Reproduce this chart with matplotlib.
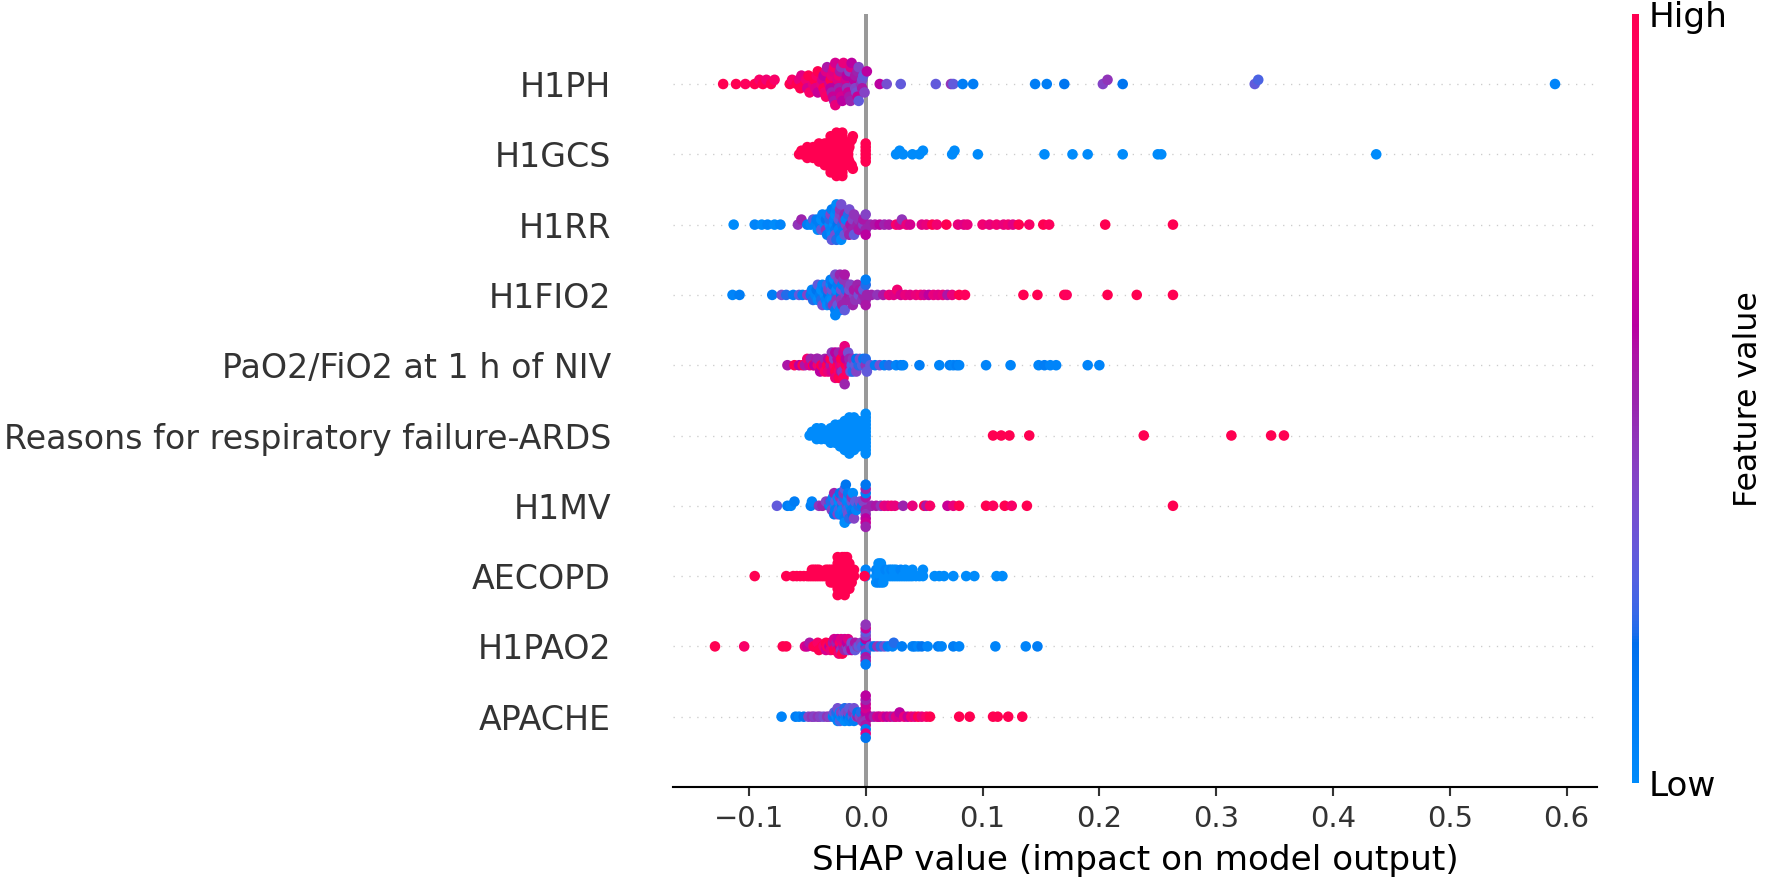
import matplotlib

matplotlib.use("Agg")
import matplotlib.pyplot as plt
import numpy as np
from matplotlib.cm import ScalarMappable
from matplotlib.colors import LinearSegmentedColormap, Normalize

# SHAP 值与特征值（0 = 低，1 = 高），按图中从上到下的顺序
feature_names = [
    "H1PH",
    "H1GCS",
    "H1RR",
    "H1FIO2",
    "PaO2/FiO2 at 1 h of NIV",
    "Reasons for respiratory failure-ARDS",
    "H1MV",
    "AECOPD",
    "H1PAO2",
    "APACHE",
]

h1ph = [
    (-0.122, 1.0), (-0.111, 1.0), (-0.103, 0.95), (-0.095, 1.0), (-0.091, 0.9), (-0.088, 1.0),
    (-0.085, 0.85), (-0.081, 1.0), (-0.078, 0.9),
    (-0.065, 1.0), (-0.063, 0.9),
    (-0.059, 1.0), (-0.057, 0.8), (-0.056, 1.0), (-0.055, 0.75),
    (-0.052, 1.0), (-0.051, 0.85), (-0.050, 0.7), (-0.049, 1.0), (-0.048, 0.9),
    (-0.045, 0.8), (-0.044, 1.0), (-0.043, 0.75), (-0.042, 0.9), (-0.041, 0.65), (-0.041, 1.0),
    (-0.038, 0.8), (-0.037, 0.7), (-0.036, 1.0), (-0.036, 0.6), (-0.035, 0.85), (-0.034, 0.75),
    (-0.034, 0.9), (-0.033, 0.55),
    (-0.031, 0.7), (-0.030, 1.0), (-0.030, 0.6), (-0.029, 0.8), (-0.029, 0.5), (-0.028, 0.75),
    (-0.028, 0.65), (-0.027, 0.9), (-0.027, 0.55), (-0.026, 0.7), (-0.026, 0.8),
    (-0.024, 0.6), (-0.024, 0.75), (-0.023, 0.5), (-0.023, 0.85), (-0.022, 0.65), (-0.022, 0.55),
    (-0.021, 0.7), (-0.021, 0.45), (-0.020, 0.6), (-0.019, 0.8),
    (-0.017, 0.55), (-0.017, 0.7), (-0.016, 0.45), (-0.016, 0.6), (-0.015, 0.65), (-0.014, 0.4),
    (-0.014, 0.55), (-0.013, 0.75), (-0.013, 0.5), (-0.012, 0.6),
    (-0.010, 0.45), (-0.010, 0.6), (-0.009, 0.4), (-0.009, 0.55), (-0.008, 0.35), (-0.007, 0.5),
    (-0.007, 0.65), (-0.006, 0.4), (-0.006, 0.3),
    (-0.004, 0.45), (-0.003, 0.35), (-0.003, 0.55), (-0.002, 0.3), (-0.001, 0.4), (0.001, 0.6),
    (0.012, 0.6), (0.018, 0.35), (0.030, 0.3), (0.060, 0.3), (0.073, 0.45), (0.075, 0.3),
    (0.083, 0.1), (0.092, 0.1), (0.145, 0.1), (0.155, 0.1), (0.170, 0.15), (0.203, 0.4),
    (0.207, 0.45), (0.220, 0.15), (0.333, 0.3), (0.336, 0.25), (0.590, 0.05),
]

h1gcs = [
    (-0.057, 1.0), (-0.055, 1.0), (-0.054, 1.0),
    (-0.051, 1.0), (-0.050, 1.0), (-0.050, 1.0), (-0.049, 1.0),
    (-0.046, 1.0), (-0.045, 1.0), (-0.045, 1.0), (-0.044, 1.0), (-0.044, 1.0),
    (-0.041, 1.0), (-0.041, 1.0), (-0.040, 1.0), (-0.040, 1.0), (-0.039, 1.0), (-0.039, 1.0),
    (-0.036, 1.0), (-0.036, 1.0), (-0.035, 1.0), (-0.035, 1.0), (-0.035, 1.0), (-0.034, 1.0),
    (-0.034, 1.0), (-0.034, 1.0),
    (-0.031, 1.0), (-0.031, 1.0), (-0.031, 1.0), (-0.031, 1.0), (-0.030, 1.0), (-0.030, 1.0),
    (-0.030, 1.0), (-0.030, 1.0), (-0.029, 1.0), (-0.029, 1.0), (-0.029, 1.0),
    (-0.026, 1.0), (-0.026, 1.0), (-0.026, 1.0), (-0.026, 1.0), (-0.026, 1.0), (-0.025, 1.0),
    (-0.025, 1.0), (-0.025, 1.0), (-0.025, 1.0), (-0.025, 1.0), (-0.024, 1.0), (-0.024, 1.0),
    (-0.024, 1.0), (-0.024, 1.0),
    (-0.021, 1.0), (-0.021, 1.0), (-0.021, 1.0), (-0.021, 1.0), (-0.021, 1.0), (-0.020, 1.0),
    (-0.020, 1.0), (-0.020, 1.0), (-0.020, 1.0), (-0.019, 1.0), (-0.019, 1.0), (-0.019, 1.0),
    (-0.019, 1.0),
    (-0.016, 1.0), (-0.016, 1.0), (-0.016, 1.0), (-0.015, 1.0), (-0.015, 1.0), (-0.015, 1.0),
    (-0.014, 1.0), (-0.014, 1.0), (-0.014, 1.0),
    (-0.012, 1.0), (-0.012, 1.0), (-0.011, 1.0), (-0.011, 1.0),
    (0.000, 1.0), (0.000, 1.0), (0.000, 1.0), (0.000, 1.0), (0.000, 1.0), (0.000, 1.0),
    (0.026, 0.0), (0.029, 0.0), (0.032, 0.0), (0.040, 0.0), (0.046, 0.0), (0.049, 0.0),
    (0.074, 0.0), (0.076, 0.0), (0.096, 0.0), (0.153, 0.0), (0.177, 0.0), (0.190, 0.0),
    (0.220, 0.0), (0.250, 0.0), (0.253, 0.0), (0.437, 0.0),
]

h1rr = [
    (-0.113, 0.0), (-0.095, 0.05), (-0.089, 0.0), (-0.084, 0.05), (-0.078, 0.0), (-0.073, 0.05),
    (-0.058, 0.45), (-0.055, 0.5), (-0.050, 0.1), (-0.047, 0.05), (-0.045, 0.3),
    (-0.043, 0.05), (-0.042, 0.1), (-0.041, 0.0),
    (-0.039, 0.1), (-0.038, 0.0), (-0.038, 0.3), (-0.037, 0.05),
    (-0.035, 0.0), (-0.034, 0.15), (-0.034, 0.45), (-0.033, 0.05), (-0.033, 0.1),
    (-0.031, 0.0), (-0.031, 0.2), (-0.030, 0.05), (-0.030, 0.4), (-0.029, 0.0), (-0.029, 0.1),
    (-0.029, 0.3),
    (-0.027, 0.0), (-0.027, 0.05), (-0.026, 0.1), (-0.026, 0.0), (-0.026, 0.35), (-0.025, 0.05),
    (-0.025, 0.2), (-0.025, 0.0), (-0.024, 0.15),
    (-0.023, 0.3), (-0.023, 0.05), (-0.022, 0.4), (-0.022, 0.1), (-0.022, 0.45), (-0.021, 0.0),
    (-0.021, 0.35), (-0.020, 0.2),
    (-0.019, 0.45), (-0.019, 0.1), (-0.018, 0.5), (-0.018, 0.3), (-0.017, 0.4), (-0.017, 0.05),
    (-0.015, 0.45), (-0.015, 0.2), (-0.014, 0.5), (-0.014, 0.35), (-0.013, 0.55),
    (-0.011, 0.4), (-0.011, 0.5), (-0.010, 0.45), (-0.010, 0.3),
    (-0.007, 0.5), (-0.006, 0.45), (-0.006, 0.55),
    (-0.003, 0.5), (-0.002, 0.4), (-0.002, 0.55),
    (0.000, 0.5), (0.000, 0.4), (0.000, 0.6),
    (0.004, 0.5), (0.008, 0.55), (0.012, 0.6), (0.016, 0.5), (0.020, 0.55), (0.026, 0.9),
    (0.029, 0.75), (0.031, 0.45), (0.035, 0.8), (0.038, 0.7), (0.048, 0.75), (0.052, 0.8),
    (0.057, 1.0), (0.061, 0.85), (0.069, 1.0), (0.079, 0.8), (0.084, 0.75), (0.087, 0.8),
    (0.100, 0.85), (0.106, 0.8), (0.112, 0.85), (0.118, 0.8), (0.122, 0.85), (0.126, 0.75),
    (0.131, 1.0), (0.140, 0.9), (0.152, 1.0), (0.157, 0.95), (0.205, 1.0), (0.263, 1.0),
]

h1fio2 = [
    (-0.114, 0.05), (-0.108, 0.1),
    (-0.080, 0.1), (-0.072, 0.35), (-0.068, 0.2), (-0.062, 0.1), (-0.057, 0.3), (-0.054, 0.1),
    (-0.050, 0.4),
    (-0.047, 0.1), (-0.046, 0.05), (-0.045, 0.2),
    (-0.043, 0.05), (-0.042, 0.15), (-0.041, 0.0), (-0.041, 0.3),
    (-0.039, 0.1), (-0.038, 0.0), (-0.038, 0.2), (-0.037, 0.05), (-0.037, 0.35),
    (-0.035, 0.0), (-0.034, 0.1), (-0.034, 0.05), (-0.033, 0.25), (-0.033, 0.0), (-0.032, 0.15),
    (-0.032, 0.4),
    (-0.031, 0.05), (-0.030, 0.0), (-0.030, 0.2), (-0.030, 0.1), (-0.029, 0.05), (-0.029, 0.3),
    (-0.029, 0.0), (-0.028, 0.15), (-0.028, 0.45),
    (-0.027, 0.0), (-0.026, 0.1), (-0.026, 0.35), (-0.026, 0.05), (-0.025, 0.2), (-0.025, 0.0),
    (-0.025, 0.45), (-0.024, 0.1), (-0.024, 0.3),
    (-0.023, 0.4), (-0.022, 0.05), (-0.022, 0.5), (-0.021, 0.15), (-0.021, 0.35), (-0.021, 0.45),
    (-0.020, 0.1), (-0.020, 0.5),
    (-0.019, 0.45), (-0.018, 0.3), (-0.018, 0.55), (-0.017, 0.4), (-0.017, 0.2), (-0.016, 0.5),
    (-0.015, 0.45), (-0.014, 0.55), (-0.014, 0.35), (-0.013, 0.5), (-0.013, 0.4),
    (-0.011, 0.5), (-0.010, 0.4), (-0.010, 0.55), (-0.009, 0.45),
    (-0.007, 0.5), (-0.006, 0.35), (-0.005, 0.55),
    (-0.003, 0.45), (-0.002, 0.5), (-0.002, 0.3),
    (0.000, 0.5), (0.000, 0.2), (0.000, 0.55), (0.000, 0.1), (0.001, 0.5),
    (0.005, 0.5), (0.010, 0.45), (0.015, 0.55), (0.020, 0.8), (0.024, 0.75), (0.027, 0.85),
    (0.030, 0.7), (0.034, 0.8), (0.038, 0.75), (0.043, 0.8), (0.047, 0.85), (0.050, 0.7),
    (0.054, 0.6), (0.058, 0.8), (0.062, 0.75), (0.066, 0.8), (0.070, 0.55), (0.074, 0.8),
    (0.080, 1.0), (0.085, 0.95), (0.135, 1.0), (0.147, 1.0), (0.170, 1.0), (0.172, 0.95),
    (0.207, 1.0), (0.232, 1.0), (0.263, 1.0),
]

pao2_fio2 = [
    (-0.067, 0.55), (-0.061, 1.0), (-0.057, 0.6), (-0.054, 1.0), (-0.052, 0.55), (-0.050, 0.85),
    (-0.048, 0.7), (-0.047, 0.5),
    (-0.045, 1.0), (-0.044, 0.6),
    (-0.042, 0.55), (-0.041, 0.85), (-0.041, 0.5),
    (-0.039, 0.6), (-0.038, 1.0),
    (-0.036, 0.7), (-0.035, 0.5), (-0.035, 0.9),
    (-0.033, 1.0), (-0.032, 0.6), (-0.032, 0.8),
    (-0.030, 0.55), (-0.030, 1.0), (-0.029, 0.7), (-0.029, 0.45),
    (-0.027, 0.9), (-0.027, 0.4), (-0.026, 1.0), (-0.026, 0.6), (-0.026, 0.8),
    (-0.024, 1.0), (-0.024, 0.65), (-0.023, 0.9), (-0.023, 0.5), (-0.023, 1.0), (-0.022, 0.75),
    (-0.021, 1.0), (-0.021, 0.55), (-0.020, 0.85), (-0.020, 1.0), (-0.020, 0.45), (-0.019, 0.7),
    (-0.019, 0.95),
    (-0.018, 0.8), (-0.018, 0.5), (-0.017, 1.0), (-0.017, 0.6), (-0.016, 0.9),
    (-0.015, 0.35), (-0.014, 0.7), (-0.014, 0.5), (-0.013, 0.3),
    (-0.012, 0.25), (-0.011, 0.45), (-0.011, 0.2),
    (-0.009, 0.3), (-0.008, 0.15), (-0.008, 0.4),
    (-0.006, 0.2), (-0.005, 0.35),
    (-0.003, 0.25), (-0.002, 0.1),
    (0.000, 0.45), (0.000, 0.2), (0.001, 0.3),
    (0.004, 0.3), (0.008, 0.1), (0.012, 0.35), (0.016, 0.1), (0.020, 0.2), (0.026, 0.05),
    (0.030, 0.1), (0.032, 0.05), (0.046, 0.1), (0.063, 0.05), (0.072, 0.1), (0.075, 0.05),
    (0.078, 0.1), (0.080, 0.05), (0.103, 0.05), (0.124, 0.05), (0.148, 0.05), (0.153, 0.1),
    (0.158, 0.05), (0.163, 0.05), (0.190, 0.05), (0.200, 0.05),
]

ards = [
    (-0.048, 0.0), (-0.046, 0.0),
    (-0.044, 0.0), (-0.043, 0.0), (-0.042, 0.0), (-0.042, 0.0),
    (-0.040, 0.0), (-0.039, 0.0), (-0.038, 0.0), (-0.038, 0.0),
    (-0.036, 0.0), (-0.035, 0.0), (-0.034, 0.0),
    (-0.032, 0.0), (-0.031, 0.0), (-0.031, 0.0), (-0.030, 0.0), (-0.030, 0.0),
    (-0.028, 0.0), (-0.028, 0.0), (-0.027, 0.0), (-0.027, 0.0), (-0.026, 0.0), (-0.026, 0.0),
    (-0.024, 0.0), (-0.024, 0.0), (-0.023, 0.0), (-0.023, 0.0), (-0.022, 0.0), (-0.022, 0.0),
    (-0.022, 0.0),
    (-0.020, 0.0), (-0.020, 0.0), (-0.020, 0.0), (-0.019, 0.0), (-0.019, 0.0), (-0.019, 0.0),
    (-0.018, 0.0), (-0.018, 0.0), (-0.018, 0.0),
    (-0.016, 0.0), (-0.016, 0.0), (-0.016, 0.0), (-0.016, 0.0), (-0.015, 0.0), (-0.015, 0.0),
    (-0.015, 0.0), (-0.015, 0.0), (-0.014, 0.0), (-0.014, 0.0), (-0.014, 0.0),
    (-0.012, 0.0), (-0.012, 0.0), (-0.012, 0.0), (-0.012, 0.0), (-0.011, 0.0), (-0.011, 0.0),
    (-0.011, 0.0), (-0.010, 0.0), (-0.010, 0.0), (-0.010, 0.0),
    (-0.008, 0.0), (-0.008, 0.0), (-0.008, 0.0), (-0.007, 0.0), (-0.007, 0.0), (-0.007, 0.0),
    (-0.006, 0.0), (-0.006, 0.0),
    (-0.004, 0.0), (-0.004, 0.0), (-0.004, 0.0), (-0.003, 0.0), (-0.003, 0.0), (-0.002, 0.0),
    (-0.002, 0.0),
    (0.000, 0.0), (0.000, 0.0), (0.000, 0.0), (0.000, 0.0), (0.000, 0.0), (0.000, 0.0),
    (0.000, 0.0), (0.000, 0.0), (0.000, 0.0), (0.000, 0.0), (0.000, 0.0), (0.000, 0.0),
    (0.109, 1.0), (0.116, 1.0), (0.123, 1.0), (0.140, 1.0), (0.238, 1.0), (0.313, 1.0),
    (0.347, 1.0), (0.358, 1.0),
]

h1mv = [
    (-0.076, 0.3), (-0.067, 0.1), (-0.064, 0.05), (-0.061, 0.1), (-0.047, 0.1), (-0.046, 0.05),
    (-0.040, 0.45), (-0.037, 0.5), (-0.034, 0.4),
    (-0.031, 0.1), (-0.031, 0.45), (-0.030, 0.05), (-0.030, 0.2), (-0.029, 0.4),
    (-0.028, 0.05), (-0.027, 0.15), (-0.027, 0.5), (-0.026, 0.0), (-0.026, 0.3), (-0.026, 0.1),
    (-0.024, 0.05), (-0.024, 0.4), (-0.023, 0.1), (-0.023, 0.0), (-0.023, 0.25), (-0.022, 0.45),
    (-0.022, 0.05), (-0.022, 0.15),
    (-0.020, 0.1), (-0.020, 0.35), (-0.020, 0.0), (-0.019, 0.2), (-0.019, 0.05), (-0.019, 0.45),
    (-0.018, 0.1), (-0.018, 0.3), (-0.018, 0.0),
    (-0.017, 0.15), (-0.016, 0.4), (-0.016, 0.05), (-0.016, 0.25), (-0.015, 0.0), (-0.015, 0.35),
    (-0.015, 0.1), (-0.014, 0.2),
    (-0.013, 0.05), (-0.012, 0.3), (-0.012, 0.1), (-0.012, 0.45), (-0.011, 0.15), (-0.011, 0.0),
    (-0.010, 0.4), (-0.009, 0.1), (-0.009, 0.3), (-0.008, 0.05),
    (-0.006, 0.2), (-0.005, 0.35),
    (-0.003, 0.1), (-0.002, 0.4),
    (0.000, 0.5), (0.000, 0.55), (0.000, 0.45), (0.000, 0.1), (0.000, 0.6), (0.000, 0.5),
    (0.000, 0.65), (0.000, 0.15), (0.000, 0.5),
    (0.005, 0.5), (0.009, 0.55), (0.013, 0.45), (0.016, 0.8), (0.019, 0.75), (0.022, 0.85),
    (0.025, 0.8), (0.032, 0.5), (0.040, 0.8), (0.050, 1.0), (0.052, 0.55), (0.055, 0.9),
    (0.070, 0.65), (0.075, 0.8), (0.080, 1.0), (0.103, 1.0), (0.109, 0.95), (0.119, 1.0),
    (0.125, 0.9), (0.138, 1.0), (0.263, 1.0),
]

aecopd = [
    (-0.095, 1.0), (-0.068, 1.0), (-0.062, 1.0), (-0.059, 1.0), (-0.056, 1.0), (-0.053, 1.0),
    (-0.050, 1.0), (-0.048, 1.0), (-0.046, 1.0), (-0.046, 1.0), (-0.044, 1.0), (-0.044, 1.0),
    (-0.042, 1.0), (-0.042, 1.0), (-0.040, 1.0), (-0.040, 1.0), (-0.038, 1.0), (-0.036, 1.0),
    (-0.034, 1.0), (-0.034, 1.0), (-0.032, 1.0), (-0.032, 1.0),
    (-0.030, 1.0), (-0.030, 1.0), (-0.030, 1.0), (-0.028, 1.0), (-0.028, 1.0), (-0.028, 1.0),
    (-0.026, 1.0), (-0.026, 1.0), (-0.026, 1.0),
    (-0.024, 1.0), (-0.024, 1.0), (-0.024, 1.0), (-0.024, 1.0),
    (-0.022, 1.0), (-0.022, 1.0), (-0.022, 1.0), (-0.022, 1.0), (-0.022, 1.0),
    (-0.020, 1.0), (-0.020, 1.0), (-0.020, 1.0), (-0.020, 1.0), (-0.020, 1.0), (-0.020, 1.0),
    (-0.018, 1.0), (-0.018, 1.0), (-0.018, 1.0), (-0.018, 1.0), (-0.018, 1.0), (-0.018, 1.0),
    (-0.018, 1.0),
    (-0.016, 1.0), (-0.016, 1.0), (-0.016, 1.0), (-0.016, 1.0), (-0.016, 1.0), (-0.016, 1.0),
    (-0.014, 1.0), (-0.014, 1.0), (-0.014, 1.0), (-0.014, 1.0), (-0.014, 1.0),
    (-0.012, 1.0), (-0.012, 1.0), (-0.012, 1.0), (-0.010, 1.0), (-0.010, 1.0),
    (0.000, 0.0), (0.000, 0.05), (-0.001, 1.0),
    (0.009, 0.0), (0.009, 0.05), (0.009, 0.0), (0.011, 0.0), (0.011, 0.0), (0.011, 0.05),
    (0.011, 0.0), (0.013, 0.0), (0.013, 0.0), (0.013, 0.05), (0.013, 0.0), (0.015, 0.0),
    (0.015, 0.0), (0.015, 0.0), (0.017, 0.0), (0.017, 0.05),
    (0.020, 0.0), (0.020, 0.0), (0.022, 0.0), (0.022, 0.05), (0.024, 0.0), (0.024, 0.0),
    (0.026, 0.0), (0.026, 0.0), (0.028, 0.0), (0.030, 0.0), (0.030, 0.05), (0.032, 0.0),
    (0.034, 0.0), (0.034, 0.0), (0.036, 0.0), (0.038, 0.0), (0.040, 0.0), (0.040, 0.0),
    (0.043, 0.0), (0.046, 0.0), (0.049, 0.0), (0.049, 0.0),
    (0.059, 0.0), (0.063, 0.0), (0.067, 0.0), (0.075, 0.0), (0.086, 0.0), (0.093, 0.0),
    (0.112, 0.0), (0.117, 0.0),
]

h1pao2 = [
    (-0.129, 1.0), (-0.104, 0.9), (-0.071, 1.0), (-0.068, 1.0), (-0.052, 0.75), (-0.050, 0.65),
    (-0.048, 0.55),
    (-0.045, 0.8), (-0.044, 1.0),
    (-0.042, 1.0), (-0.041, 0.9), (-0.040, 1.0),
    (-0.037, 1.0), (-0.036, 0.85),
    (-0.034, 1.0), (-0.034, 0.7), (-0.033, 0.95),
    (-0.031, 0.6), (-0.030, 1.0), (-0.030, 0.8),
    (-0.028, 0.9), (-0.028, 0.55), (-0.027, 1.0), (-0.027, 0.7),
    (-0.025, 0.8), (-0.025, 0.5), (-0.024, 1.0), (-0.024, 0.65), (-0.023, 0.85),
    (-0.022, 0.6), (-0.022, 0.9), (-0.021, 0.45), (-0.021, 0.75), (-0.020, 1.0),
    (-0.019, 0.55), (-0.019, 0.8), (-0.018, 0.5), (-0.018, 0.7),
    (-0.016, 0.45), (-0.016, 0.6), (-0.015, 0.4), (-0.015, 0.75),
    (-0.013, 0.5), (-0.012, 0.35), (-0.012, 0.6),
    (-0.010, 0.4), (-0.009, 0.55), (-0.009, 0.3),
    (-0.007, 0.45), (-0.006, 0.3),
    (-0.004, 0.4), (-0.003, 0.25),
    (0.000, 0.5), (0.000, 0.15), (0.000, 0.45), (0.000, 0.6), (0.000, 0.2), (0.000, 0.4),
    (0.000, 0.55), (0.000, 0.3), (0.000, 0.5), (0.000, 0.65), (0.000, 0.1), (0.000, 0.45),
    (0.004, 0.3), (0.007, 0.15), (0.010, 0.45), (0.013, 0.2), (0.016, 0.35), (0.019, 0.1),
    (0.023, 0.05), (0.024, 0.2), (0.031, 0.1), (0.040, 0.05), (0.042, 0.1), (0.045, 0.05),
    (0.048, 0.15), (0.053, 0.05), (0.062, 0.1), (0.065, 0.05), (0.075, 0.1), (0.080, 0.05),
    (0.111, 0.05), (0.137, 0.05), (0.147, 0.1),
]

apache = [
    (-0.072, 0.05), (-0.060, 0.1), (-0.057, 0.05), (-0.053, 0.15), (-0.049, 0.4), (-0.046, 0.45),
    (-0.044, 0.4), (-0.041, 0.45), (-0.039, 0.4), (-0.036, 0.35), (-0.033, 0.45), (-0.031, 0.4),
    (-0.028, 0.05), (-0.027, 0.1), (-0.027, 0.3),
    (-0.025, 0.0), (-0.025, 0.2), (-0.024, 0.05), (-0.024, 0.35),
    (-0.023, 0.1), (-0.022, 0.0), (-0.022, 0.25), (-0.021, 0.05), (-0.021, 0.4),
    (-0.019, 0.1), (-0.019, 0.3), (-0.018, 0.0), (-0.018, 0.2), (-0.017, 0.05), (-0.017, 0.35),
    (-0.015, 0.15), (-0.015, 0.4), (-0.014, 0.05), (-0.014, 0.3), (-0.013, 0.1),
    (-0.011, 0.25), (-0.011, 0.45), (-0.010, 0.1), (-0.010, 0.35),
    (-0.008, 0.3), (-0.007, 0.5), (-0.007, 0.15),
    (-0.005, 0.4), (-0.004, 0.2), (-0.003, 0.45),
    (0.000, 0.5), (0.000, 0.6), (0.000, 0.45), (0.000, 0.7), (0.000, 0.55), (0.000, 0.65),
    (0.000, 0.1), (0.000, 0.5), (0.000, 0.75), (0.000, 0.6), (0.000, 0.15),
    (0.004, 0.6), (0.007, 0.5), (0.010, 0.7), (0.012, 0.65), (0.015, 0.75), (0.018, 0.6),
    (0.021, 0.7), (0.024, 0.55), (0.026, 0.75), (0.029, 0.7), (0.029, 0.6), (0.033, 0.8),
    (0.036, 0.65), (0.039, 0.85), (0.042, 0.75), (0.045, 1.0), (0.048, 0.8), (0.052, 0.9),
    (0.055, 1.0), (0.080, 1.0), (0.089, 1.0), (0.109, 1.0), (0.113, 1.0), (0.122, 1.0),
    (0.134, 1.0),
]

rows = [h1ph, h1gcs, h1rr, h1fio2, pao2_fio2, ards, h1mv, aecopd, h1pao2, apache]


def lch_to_rgb(l, c, h):
    """LCH(ab) -> sRGB，D65 白点。"""
    a = c * np.cos(h)
    b = c * np.sin(h)
    fy = (l + 16.0) / 116.0
    fx = fy + a / 500.0
    fz = fy - b / 200.0

    def finv(t):
        return t ** 3 if t > 6.0 / 29.0 else 3 * (6.0 / 29.0) ** 2 * (t - 4.0 / 29.0)

    x = 0.95047 * finv(fx)
    y = finv(fy)
    z = 1.08883 * finv(fz)
    rgb = np.array([
        3.2404542 * x - 1.5371385 * y - 0.4985314 * z,
        -0.9692660 * x + 1.8760108 * y + 0.0415560 * z,
        0.0556434 * x - 0.2040259 * y + 1.0572252 * z,
    ])
    rgb = np.clip(rgb, 0, None)
    rgb = np.where(rgb <= 0.0031308, 12.92 * rgb, 1.055 * rgb ** (1 / 2.4) - 0.055)
    return np.clip(rgb, 0, 1)


def make_red_blue():
    # 与 shap 的 red_blue 一致：在 LCH 空间从蓝插值到红
    blue_lch = [54.0, 70.0, 4.6588]
    l_mid = 40.0
    red_lch = [54.0, 90.0, 0.35470565 + 2 * np.pi]
    nsteps = 100
    l_vals = list(np.linspace(blue_lch[0], l_mid, nsteps // 2)) + list(np.linspace(l_mid, red_lch[0], nsteps // 2))
    c_vals = np.linspace(blue_lch[1], red_lch[1], nsteps)
    h_vals = np.linspace(blue_lch[2], red_lch[2], nsteps)
    colors = [lch_to_rgb(l, c, h) for l, c, h in zip(l_vals, c_vals, h_vals)]
    return LinearSegmentedColormap.from_list("red_blue", colors)


def swarm_offsets(shaps, row_height=0.4, nbins=100):
    """shap beeswarm 的分箱堆叠。"""
    shaps = np.asarray(shaps)
    quant = np.round(nbins * (shaps - shaps.min()) / (shaps.max() - shaps.min() + 1e-8))
    inds = np.argsort(quant, kind="stable")
    layer = 0
    last_bin = -1
    ys = np.zeros(len(shaps))
    for ind in inds:
        if quant[ind] != last_bin:
            layer = 0
        ys[ind] = np.ceil(layer / 2) * ((layer % 2) * 2 - 1)
        layer += 1
        last_bin = quant[ind]
    ys *= 0.9 * (row_height / np.max(ys + 1))
    return ys


def main():
    cmap = make_red_blue()
    axis_color = "#333333"

    fig = plt.figure(figsize=(1769 / 190, 880 / 190), dpi=190)
    ax = fig.add_axes([0.3804, 0.1057, 0.5224, 0.8787])

    ax.axvline(x=0, color="#999999", zorder=-1)
    n = len(feature_names)
    for i, pts in enumerate(rows):
        pos = n - 1 - i
        ax.axhline(y=pos, color="#cccccc", lw=0.5, dashes=(1, 5), zorder=-1)
        shap_vals = np.array([p[0] for p in pts])
        feat_vals = np.array([p[1] for p in pts])
        ys = swarm_offsets(shap_vals)
        ax.scatter(shap_vals, pos + ys, c=feat_vals, cmap=cmap, vmin=0, vmax=1,
                   s=16, linewidth=0, alpha=1, zorder=3)

    ax.set_xlim(-0.165, 0.626)
    ax.set_ylim(-1, n)
    ax.xaxis.set_ticks_position("bottom")
    ax.yaxis.set_ticks_position("none")
    for side in ("right", "top", "left"):
        ax.spines[side].set_visible(False)
    ax.tick_params(color=axis_color, labelcolor=axis_color)
    ax.set_yticks(range(n))
    ax.set_yticklabels(feature_names[::-1], fontsize=12.6)
    ax.tick_params("y", length=20, width=0.5, which="major")
    ax.tick_params("x", labelsize=11)
    ax.set_xlabel("SHAP value (impact on model output)", fontsize=13)

    cax = fig.add_axes([0.9226, 0.110, 0.004, 0.874])
    sm = ScalarMappable(norm=Normalize(0, 1), cmap=cmap)
    cb = fig.colorbar(sm, cax=cax, ticks=[0, 1])
    cb.set_ticklabels(["Low", "High"])
    cb.set_label("Feature value", size=12, labelpad=2)
    cb.ax.tick_params(labelsize=13, length=0)
    cb.outline.set_visible(False)

    fig.savefig("out.png", dpi=190)
    plt.close(fig)


if __name__ == "__main__":
    main()
